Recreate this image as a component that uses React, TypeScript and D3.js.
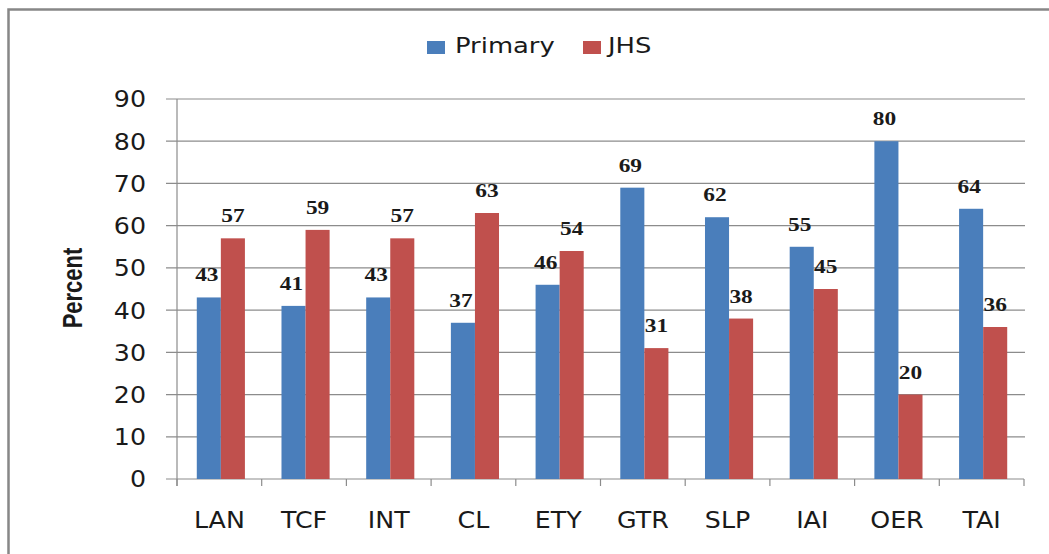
import React from "react";
import * as d3 from "d3";

// values
const categories = ["LAN", "TCF", "INT", "CL", "ETY", "GTR", "SLP", "IAI", "OER", "TAI"];
const primary = [43, 41, 43, 37, 46, 69, 62, 55, 80, 64];
const jhs = [57, 59, 57, 63, 54, 31, 38, 45, 20, 36];
const seriesNames = ["Primary", "JHS"];
const seriesColors = ["#4a7ebb", "#c0504d"];
const yTicks = [0, 10, 20, 30, 40, 50, 60, 70, 80, 90];

const W = 1049;
const H = 554;
const left = 177;
const right = 1024;
const top = 99;
const bottom = 479;
const grid = "#8c8c8c";

const sans = "'DejaVu Sans', Verdana, sans-serif";

// text that is a bit stretched sideways, as in the picture
const Stretch = ({ x, y, sx = 1, sy = 1, rot = 0, children, ...rest }: any) => (
  <text transform={`translate(${x},${y}) rotate(${rot}) scale(${sx},${sy})`} {...rest}>
    {children}
  </text>
);

export default function App() {
  const x = d3.scaleBand().domain(categories).range([left, right]);
  const x1 = d3
    .scaleBand()
    .domain(seriesNames)
    .range([1.5, x.bandwidth() + 1.5])
    .paddingOuter(0.76);
  const y = d3.scaleLinear().domain([0, 90]).range([bottom, top]);

  const rows = categories.map((c, i) => ({ cat: c, values: [primary[i], jhs[i]] }));
  const edges = categories.map((c) => x(c) as number).concat(right);

  return (
    <svg
      width={W}
      height={H}
      style={{ position: "absolute", left: 0, top: 0, background: "#fff" }}
    >
      {/* outer frame, cut off on the right and bottom */}
      <rect x={8.5} y={9.5} width={W + 20} height={H + 20} fill="#fff" stroke="#878787" strokeWidth={2.5} />

      {/* gridlines */}
      {yTicks.map((t) => (
        <line key={t} x1={166} x2={t === 0 ? right : right + 1} y1={y(t)} y2={y(t)} stroke={grid} strokeWidth={1.2} />
      ))}
      <line x1={left} x2={left} y1={top} y2={bottom + 7} stroke={grid} strokeWidth={1.2} />
      {edges.map((e, i) => (
        <line key={i} x1={e} x2={e} y1={bottom} y2={bottom + 7} stroke={grid} strokeWidth={1.2} />
      ))}

      {/* y tick labels */}
      {yTicks.map((t) => (
        <Stretch key={t} x={146} y={y(t) + 8.4} sx={1.1} textAnchor="end" fontFamily={sans} fontSize={23} fill="#1a1a1a">
          {t}
        </Stretch>
      ))}

      {/* bars */}
      {rows.map((r) => (
        <g key={r.cat} transform={`translate(${x(r.cat)},0)`}>
          {r.values.map((v, j) => (
            <rect
              key={j}
              x={x1(seriesNames[j])}
              y={y(v)}
              width={x1.bandwidth()}
              height={bottom - y(v)}
              fill={seriesColors[j]}
            />
          ))}
        </g>
      ))}

      {/* value labels */}
      {rows.map((r) =>
        r.values.map((v, j) => (
          <Stretch
            key={r.cat + j}
            x={(x(r.cat) as number) + (x1(seriesNames[j]) as number) + x1.bandwidth() / 2 - (j === 0 ? 2 : 0)}
            y={y(v) - 16}
            sx={1.3}
            textAnchor="middle"
            fontFamily="'Liberation Serif', 'Times New Roman', serif"
            fontWeight="bold"
            fontSize={18}
            fill="#1a1a1a"
          >
            {v}
          </Stretch>
        ))
      )}

      {/* category labels */}
      {categories.map((c) => (
        <Stretch
          key={c}
          x={(x(c) as number) + x.bandwidth() / 2}
          y={528}
          sx={1.1}
          textAnchor="middle"
          fontFamily={sans}
          fontSize={23}
          fill="#1a1a1a"
        >
          {c}
        </Stretch>
      ))}

      {/* y axis title */}
      <Stretch
        x={82}
        y={288}
        rot={-90}
        sy={1.25}
        textAnchor="middle"
        fontFamily="'Liberation Sans', Arial, sans-serif"
        fontWeight="bold"
        fontSize={22}
        fill="#1a1a1a"
      >
        Percent
      </Stretch>

      {/* legend */}
      <rect x={427} y={41} width={18} height={13} fill={seriesColors[0]} />
      <Stretch x={455} y={53} sx={1.23} fontFamily={sans} fontSize={21} fill="#1a1a1a">
        {seriesNames[0]}
      </Stretch>
      <rect x={583} y={41} width={18} height={13} fill={seriesColors[1]} />
      <Stretch x={608} y={53} sx={1.23} fontFamily={sans} fontSize={21} fill="#1a1a1a">
        {seriesNames[1]}
      </Stretch>
    </svg>
  );
}
